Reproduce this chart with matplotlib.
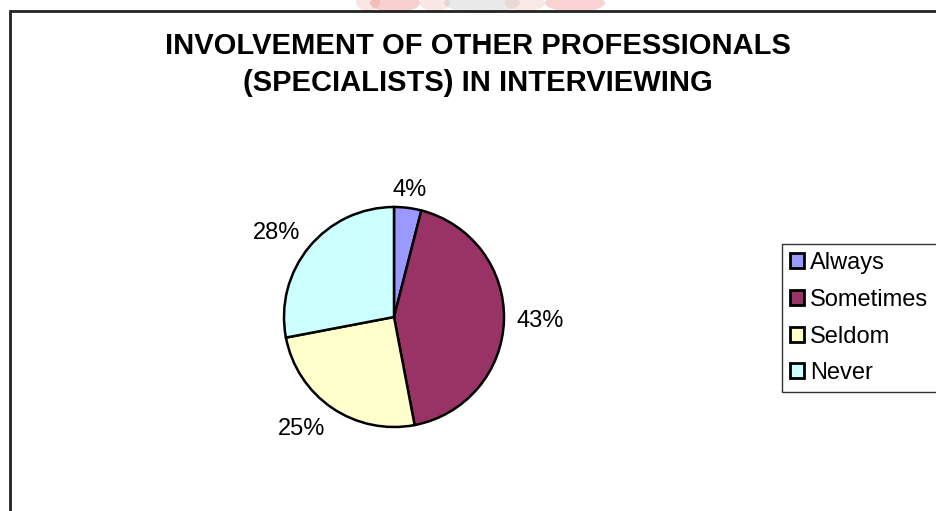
import matplotlib
matplotlib.use("Agg")
import matplotlib.pyplot as plt
from matplotlib.patches import Rectangle, Ellipse
import numpy as np

plt.rcParams['font.family'] = ['Liberation Sans', 'DejaVu Sans']

categories = ["Always", "Sometimes", "Seldom", "Never"]
shares = [4, 43, 25, 28]
colors = ["#9999FF", "#993366", "#FFFFCC", "#CCFFFF"]
title = "INVOLVEMENT OF OTHER PROFESSIONALS\n(SPECIALISTS) IN INTERVIEWING"

W, H = 937, 511
fig = plt.figure(figsize=(W / 100, H / 100), dpi=100)
fig.patch.set_facecolor("white")

def fx(px):
    return px / W

def fy(py):
    return 1 - py / H

# faint crest showing through at the top edge of the page
crest = [(368, 2, 24, 18, "#e8b0a0"), (395, 3, 50, 18, "#e86060"),
         (435, 3, 30, 16, "#e8b0a0"), (482, 3, 76, 20, "#b8b8b8"),
         (525, 3, 40, 16, "#e8b8a8"), (575, 3, 60, 18, "#ee7070")]
for cx, cy, w, h, c in crest:
    fig.patches.append(Ellipse((fx(cx), fy(cy)), w / W, h / H,
                               transform=fig.transFigure, facecolor=c,
                               edgecolor="none", alpha=0.3, zorder=0))

# chart area border (extends past the right and bottom edges)
fig.patches.append(Rectangle((fx(10), fy(H + 20)), fx(W + 20) - fx(10),
                             fy(11) - fy(H + 20), transform=fig.transFigure,
                             facecolor="none", edgecolor="#222222",
                             linewidth=2.0, zorder=1))

fig.text(fx(478), fy(32), title, ha="center", va="top", fontsize=21,
         fontweight="bold", linespacing=1.4)

# pie
cxp, cyp, r = 394, 317, 110
ax = fig.add_axes([fx(cxp - r), fy(cyp + r), 2 * r / W, 2 * r / H])
wedges, _ = ax.pie(shares, colors=colors, startangle=90, counterclock=False,
                   wedgeprops=dict(edgecolor="black", linewidth=1.8))
ax.set_xlim(-1, 1)
ax.set_ylim(-1, 1)
ax.set_aspect("equal")
ax.axis("off")

# percentage labels: the text corner nearest the pie sits just outside the rim
fs = 17
cum = 0
for v in shares:
    mid = np.deg2rad(90 - (cum + v / 2) * 3.6)
    cum += v
    c, s = np.cos(mid), np.sin(mid)
    d = r * 1.11
    px = cxp + d * c
    py = cyp - d * s
    ha = "center" if abs(c) < 0.2 else ("left" if c > 0 else "right")
    va = "center" if abs(s) < 0.3 else ("baseline" if s > 0 else "top")
    fig.text(fx(px), fy(py), f"{v}%", ha=ha, va=va, fontsize=fs)

leg = fig.legend(wedges, categories, loc="upper left",
                 bbox_to_anchor=(fx(782), fy(244)), fontsize=17,
                 frameon=True, fancybox=False, handlelength=0.6,
                 handleheight=0.6, handletextpad=0.25, labelspacing=0.62,
                 borderpad=0.35, borderaxespad=0)
leg.get_frame().set_edgecolor("black")
leg.get_frame().set_linewidth(1.0)
for p in leg.get_patches():
    p.set_linewidth(2.0)

fig.savefig("out.png", dpi=100, facecolor="white")
